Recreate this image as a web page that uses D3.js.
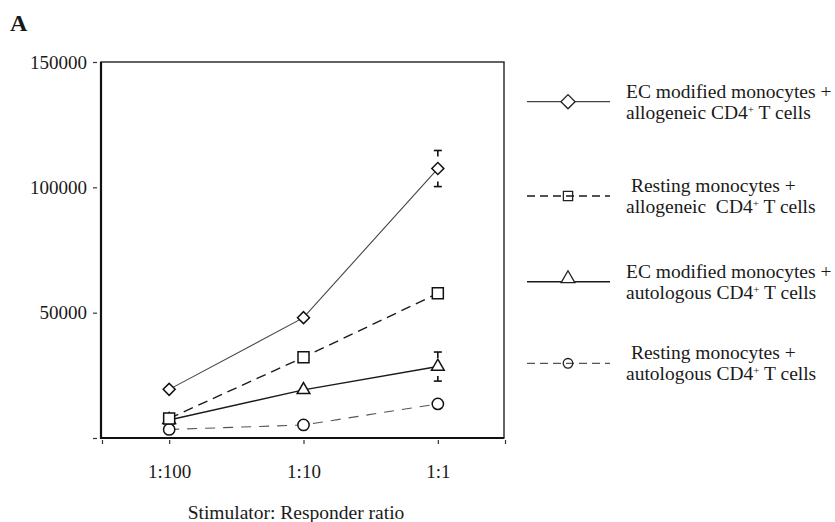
<!DOCTYPE html>
<html lang="en">
<head>
  <meta charset="UTF-8">
  <title>Stimulator: Responder ratio</title>
  <style>
    body { margin: 0; background: #fff; }
    svg { display: block; font-family: "Liberation Serif", "Times New Roman", serif; }
    text { fill: #1a1a1a; white-space: pre; }
  </style>
</head>
<body>
  <div id="chart"></div>

  <script src="https://d3js.org/d3.v7.min.js"></script>
  <script>
    // ratios on the x axis
    const ratios = ["1:100", "1:10", "1:1"];
    const yTicks = [0, 50000, 100000, 150000];

    // series values (cpm)
    const ecAllo = [19400, 48000, 107500];
    const restAllo = [7800, 32200, 57700];
    const ecAuto = [7200, 19200, 28500];
    const restAuto = [3400, 5200, 13600];

    // error bars (only drawn where visible in the figure)
    const ecAlloErr = [0, 0, 7200];
    const ecAutoErr = [0, 0, 5800];

    // legend text, two lines per entry ("|" marks the superscript)
    const legendLines = [
      ["EC modified monocytes +", "allogeneic CD4|+| T cells"],
      [" Resting monocytes +", "allogeneic  CD4|+| T cells"],
      ["EC modified monocytes +", "autologous CD4|+| T cells"],
      [" Resting monocytes +", "autologous CD4|+| T cells"]
    ];

    const width = 835, height = 522;
    const box = { left: 101, right: 504, top: 62, bottom: 438 };
    const serif = '"Liberation Serif", "Times New Roman", serif';

    const svg = d3.select("#chart").append("svg")
      .attr("width", width)
      .attr("height", height);

    // x: categories sit at the middle of three equal slots
    const x = d3.scaleLinear().domain([0, 3]).range([102, 505]);
    const y = d3.scaleLinear().domain([0, 150000]).range([box.bottom, box.top]);
    const xPos = i => x(i + 0.5);

    // panel letter
    svg.append("text")
      .attr("x", 10).attr("y", 31)
      .style("font-size", "24px").style("font-weight", "bold")
      .text("A");

    // frame
    svg.append("rect")
      .attr("x", box.left).attr("y", box.top)
      .attr("width", box.right - box.left).attr("height", box.bottom - box.top)
      .attr("fill", "none").attr("stroke", "#222").attr("stroke-width", 1.4);
    svg.append("path")
      .attr("d", `M${box.left},${box.top}V${box.bottom}H${box.right}`)
      .attr("fill", "none").attr("stroke", "#111").attr("stroke-width", 2.2);

    // y axis
    const yAxis = d3.axisLeft(y)
      .tickValues(yTicks)
      .tickSize(4)
      .tickPadding(6)
      .tickFormat(d => d === 0 ? "" : d);
    const gy = svg.append("g")
      .attr("transform", `translate(97,0)`)
      .call(yAxis)
      .attr("font-family", serif)
      .attr("font-size", 19);
    gy.select(".domain").remove();
    gy.selectAll("line").attr("stroke", "#333").attr("stroke-width", 1.2);
    gy.selectAll("text").attr("fill", "#1a1a1a");

    // x axis (ticks only, below the frame)
    const xAxis = d3.axisBottom(x)
      .tickValues([0, 0.5, 1.5, 2.5, 3])
      .tickSize(4)
      .tickPadding(21)
      .tickFormat(d => d % 1 === 0.5 ? ratios[d - 0.5] : "");
    const gx = svg.append("g")
      .attr("transform", `translate(0,440)`)
      .call(xAxis)
      .attr("font-family", serif)
      .attr("font-size", 19);
    gx.select(".domain").remove();
    gx.selectAll("line").attr("stroke", "#333").attr("stroke-width", 1.2);
    gx.selectAll("text").attr("fill", "#1a1a1a");

    svg.append("text")
      .attr("x", 296).attr("y", 519)
      .attr("text-anchor", "middle")
      .style("font-size", "19.5px")
      .text("Stimulator: Responder ratio");

    // symbols
    const sym = {
      diamond: (s) => d3.symbol().type(d3.symbolSquare).size(s)(),
      square: (s) => d3.symbol().type(d3.symbolSquare).size(s)(),
      triangle: (s) => d3.symbol().type(d3.symbolTriangle).size(s)(),
      circle: (s) => d3.symbol().type(d3.symbolCircle).size(s)()
    };

    const series = [
      { values: ecAllo, err: ecAlloErr, shape: "diamond", dash: null, color: "#444", lw: 1.1, size: 72, lsize: 100 },
      { values: restAllo, err: null, shape: "square", dash: "10,6", color: "#1a1a1a", lw: 1.4, size: 121, lsize: 85 },
      { values: ecAuto, err: ecAutoErr, shape: "triangle", dash: null, color: "#1a1a1a", lw: 1.4, size: 70, lsize: 82 },
      { values: restAuto, err: null, shape: "circle", dash: "10,8", color: "#555", lw: 1.1, size: 100, lsize: 72 }
    ];

    const line = d3.line().x((d, i) => xPos(i)).y(d => y(d));

    // lines first, then error bars, then markers on top
    series.forEach(s => {
      svg.append("path")
        .datum(s.values)
        .attr("d", line)
        .attr("fill", "none")
        .attr("stroke", s.color)
        .attr("stroke-width", s.lw)
        .attr("stroke-dasharray", s.dash);
    });

    series.filter(s => s.err).forEach(s => {
      s.values.forEach((v, i) => {
        const e = s.err[i];
        if (!e) return;
        const cx = xPos(i);
        const g = svg.append("g").attr("stroke", "#111").attr("stroke-width", 1.6);
        const top = y(v + e), bot = y(v - e);
        g.append("line").attr("x1", cx - 4).attr("x2", cx + 4).attr("y1", top).attr("y2", top);
        g.append("line").attr("x1", cx).attr("x2", cx).attr("y1", top).attr("y2", top + 6);
        g.append("line").attr("x1", cx - 4).attr("x2", cx + 4).attr("y1", bot).attr("y2", bot);
        g.append("line").attr("x1", cx).attr("x2", cx).attr("y1", bot).attr("y2", bot - 5);
      });
    });

    // square markers go last so they cover the triangle at 1:100
    [0, 2, 3, 1].map(k => series[k]).forEach(s => {
      svg.append("g").selectAll("path")
        .data(s.values)
        .join("path")
        .attr("d", sym[s.shape](s.size))
        .attr("transform", (d, i) => `translate(${xPos(i)},${y(d)})` + (s.shape === "diamond" ? " rotate(45)" : ""))
        .attr("fill", "#fff")
        .attr("stroke", "#111")
        .attr("stroke-width", 1.5);
    });

    // legend
    const legendRowY = [101.7, 196, 281.7, 363.3];
    const legend = svg.append("g");
    series.forEach((s, k) => {
      const ly = legendRowY[k];
      const g = legend.append("g");
      g.append("line")
        .attr("x1", 527).attr("x2", 610).attr("y1", ly).attr("y2", ly)
        .attr("stroke", s.color)
        .attr("stroke-width", s.lw + 0.2)
        .attr("stroke-dasharray", s.dash ? "8,5" : null);
      g.append("path")
        .attr("d", sym[s.shape](s.lsize))
        .attr("transform", `translate(568,${s.shape === "triangle" ? ly - 3 : ly})` + (s.shape === "diamond" ? " rotate(45)" : ""))
        .attr("fill", s.shape === "square" || s.shape === "circle" ? "none" : "#fff")
        .attr("stroke", "#222")
        .attr("stroke-width", 1.3);

      legendLines[k].forEach((txt, j) => {
        const t = g.append("text")
          .attr("x", 626)
          .attr("y", ly + (j === 0 ? -4 : 17))
          .style("font-size", "19.5px");
        txt.split("|").forEach((part, p) => {
          const ts = t.append("tspan").text(part);
          if (p === 1) ts.attr("dy", -6).style("font-size", "11px");
          if (p === 2) ts.attr("dy", 6);
        });
      });
    });
  </script>
</body>
</html>
